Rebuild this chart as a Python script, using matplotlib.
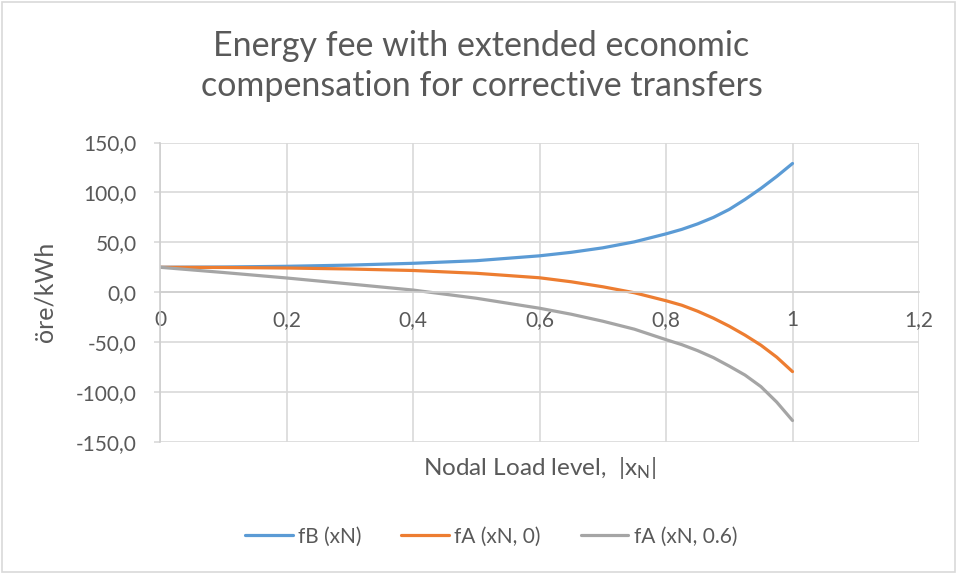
import numpy as np
import matplotlib.pyplot as plt
from matplotlib.ticker import FuncFormatter, MultipleLocator
from matplotlib.patches import Rectangle

plt.rcParams['font.family'] = ['Lato', 'DejaVu Sans']
plt.rcParams['mathtext.fontset'] = 'custom'
plt.rcParams['mathtext.rm'] = 'Lato'
plt.rcParams['mathtext.it'] = 'Lato'

# Nodal load level and fee curves (öre/kWh)
x_n = [0.0, 0.1, 0.2, 0.3, 0.4, 0.5, 0.6, 0.65, 0.7, 0.75,
       0.8, 0.825, 0.85, 0.875, 0.9, 0.925, 0.95, 0.975, 1.0]
f_b = [25, 25.3, 26, 27.2, 29, 31.6, 36.5, 40, 44.5, 50.5,
       58.5, 63, 68.5, 75, 83, 93, 104, 116, 129]
f_a0 = [25, 24.8, 24.3, 23.3, 21.8, 19, 14.5, 10.5, 5.5, -0.5,
        -8.5, -13, -19, -26, -34, -43, -53, -65, -79.5]
f_a06 = [25, 19.8, 14.3, 8.3, 2.2, -6, -16, -22, -29, -37,
         -47.5, -52.5, -58.5, -65.5, -74, -83, -94.5, -110, -128.5]

labels = ['fB (xN)', 'fA (xN, 0)', 'fA (xN, 0.6)']
colors = ['#5B9BD5', '#ED7D31', '#A5A5A5']

txt = '#595959'
grid = '#D9D9D9'

fig = plt.figure(figsize=(9.63, 5.74), dpi=100)
ax = fig.add_axes([0.1662, 0.23, 0.7881, 0.5217])

for y, lab, c in zip([f_b, f_a0, f_a06], labels, colors):
    ax.plot(x_n, y, color=c, lw=2.3, label=lab, solid_capstyle='round', solid_joinstyle='round')

ax.set_xlim(0, 1.2)
ax.set_ylim(-150, 150)
ax.xaxis.set_major_locator(MultipleLocator(0.2))
ax.yaxis.set_major_locator(MultipleLocator(50))
ax.xaxis.set_major_formatter(FuncFormatter(lambda v, p: ('%g' % round(v, 1)).replace('.', ',')))
ax.yaxis.set_major_formatter(FuncFormatter(lambda v, p: ('%.1f' % v).replace('.', ',')))

ax.grid(True, color=grid, lw=1.2)
ax.set_axisbelow(True)
for s in ['top', 'right']:
    ax.spines[s].set_visible(False)
ax.spines['bottom'].set_position(('data', 0))
ax.spines['bottom'].set_color('#CFCFCF')
ax.spines['left'].set_color('#CFCFCF')
ax.spines['bottom'].set_linewidth(1.2)
ax.spines['left'].set_linewidth(1.2)

ax.tick_params(axis='y', colors=grid, labelcolor=txt, labelsize=15, length=4, width=1.2, pad=13)
ax.tick_params(axis='x', labelcolor=txt, labelsize=15, length=0, pad=13)

ax.set_ylabel('öre/kWh', color=txt, fontsize=18)
ax.yaxis.set_label_coords(-0.136, 0.5)
ax.set_xlabel(r'Nodal Load level,  |x$_\mathregular{N}$|', color=txt, fontsize=17.5)
ax.xaxis.set_label_coords(0.5, -0.045)

fig.text(0.5, 0.948, 'Energy fee with extended economic\ncompensation for corrective transfers',
         ha='center', va='top', color=txt, fontsize=24.5, linespacing=1.3)

fig.legend(loc='center', bbox_to_anchor=(0.51, 0.065), ncol=3, frameon=False,
           fontsize=15, labelcolor=txt, handlelength=2.3, handletextpad=0.25,
           columnspacing=1.9)

fig.patches.append(Rectangle((2 / 963, 2 / 574), 953 / 963, 570 / 574, transform=fig.transFigure,
                             fill=False, edgecolor=grid, lw=1.2))

fig.savefig('out.png', dpi=100)
